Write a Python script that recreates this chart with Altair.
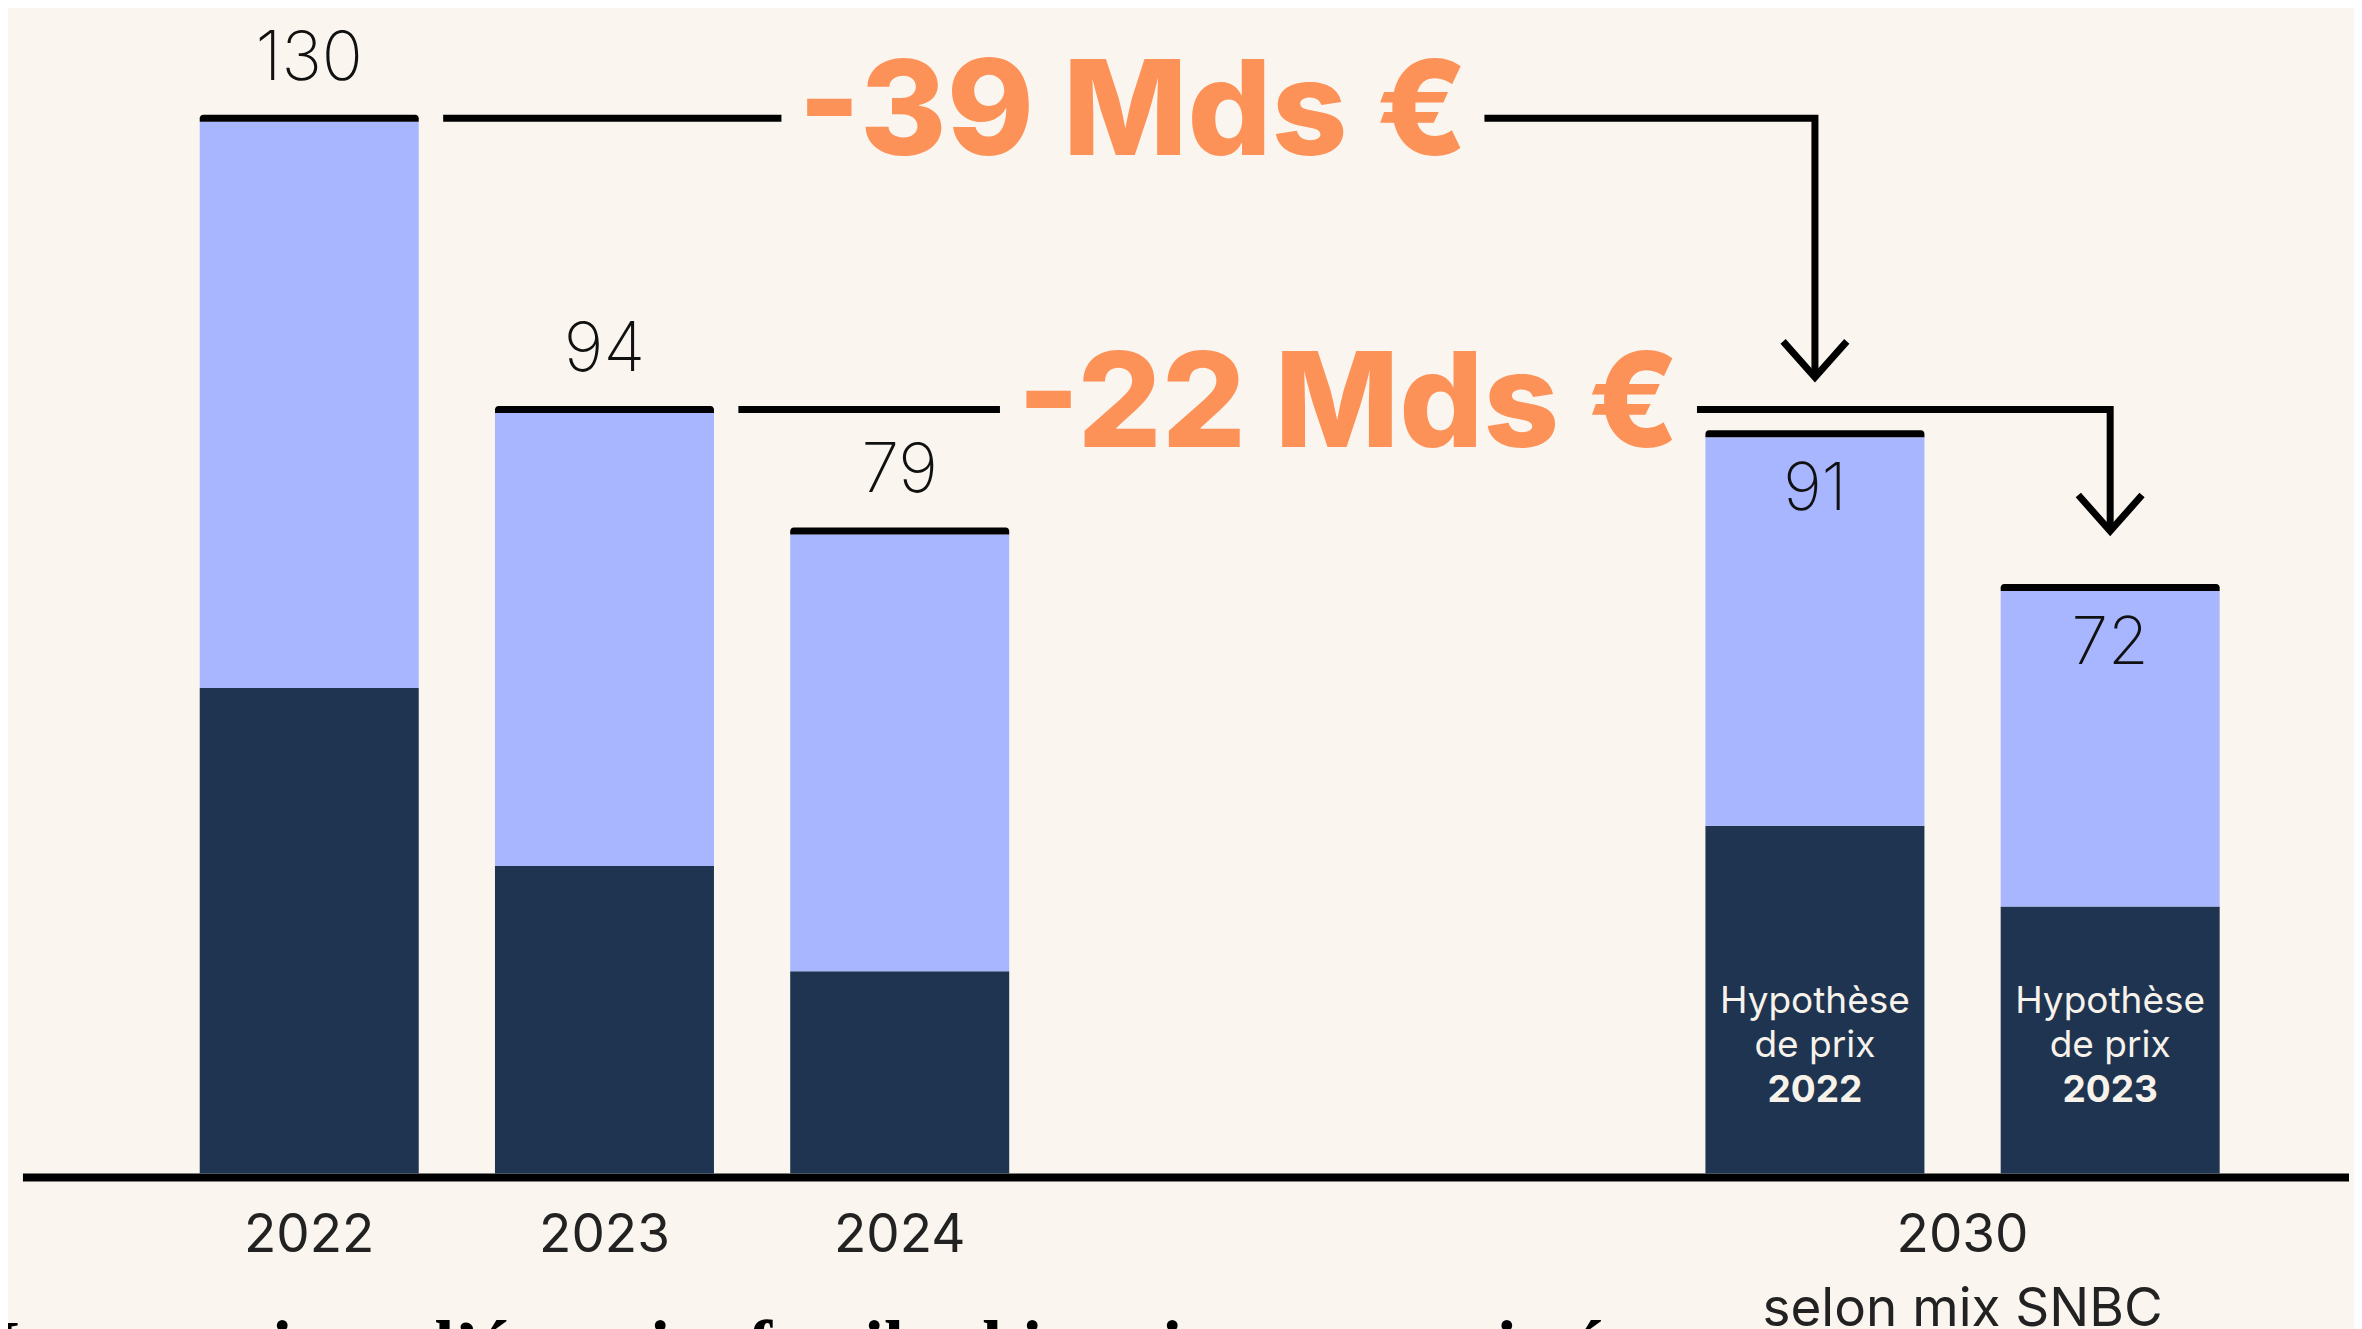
import altair as alt
import pandas as pd

# ---------------- data ----------------
bar_ids = ["2022", "2023", "2024", "2030 prix 2022", "2030 prix 2023"]
bar_years = ["2022", "2023", "2024", "2030", "2030"]
dark_vals = [60, 38, 25, 43, 33]
light_vals = [70, 56, 54, 48, 39]
total_labels = [130, 94, 79, 91, 72]
price_years = ["", "", "", "2022", "2023"]

axis_years = ["2022", "2023", "2024", "2030"]
axis_sublabels = ["", "", "", "selon mix SNBC"]

delta_labels = ["-39 Mds €", "-22 Mds €"]
delta_from = ["2022", "2023"]
delta_to = ["2030 prix 2022", "2030 prix 2023"]

hyp_line1 = "Hypothèse"
hyp_line2 = "de prix"
footer_title = "Importations d’énergies fossiles historique et projetée"

# ---------------- style / layout ----------------
BG = "#FAF6EF"
DARK = "#1F3451"
LIGHT = "#A8B6FF"
ORANGE = "#FD9259"
INK = "#111111"
LABEL_INK = "#222222"
HYP_INK = "#F7F2EA"

W, H = 2346, 1321
PX_PER_UNIT = 8.09
ZERO_PX = 1165.5
STEP_PX = 296.5
ORIGIN_PX = 297.5
GROUP_GAP = 2.1
BAR_W = 219
LINE_W = 7
CAP_PX = 7
LABEL_CX = [2.79, 3.52]
LABEL_HALF_PX = [353, 350]
START_GAP_PX = BAR_W / 2 + 25
TIP_PX = 60
ARM_DX_PX, ARM_DY_PX = 32, 36
AXIS_LEFT_PX = 10
AXIS_THICK_PX = 8
FOOTER_LEFT_PX = -21

X_DOMAIN = [-ORIGIN_PX / STEP_PX, (W - ORIGIN_PX) / STEP_PX]
Y_DOMAIN = [(ZERO_PX - H) / PX_PER_UNIT, ZERO_PX / PX_PER_UNIT]


def ux(px):
    return px / STEP_PX


def uy(px):
    return px / PX_PER_UNIT


slots = [i + (GROUP_GAP if y == "2030" else 0) for i, y in enumerate(bar_years)]
slot_of = dict(zip(bar_ids, slots))
total_of = dict(zip(bar_ids, total_labels))

xs = alt.Scale(domain=X_DOMAIN, nice=False, zero=False)
ys = alt.Scale(domain=Y_DOMAIN, nice=False, zero=False)

# ---------------- tables ----------------
seg_rows = []
for b, s, d, l in zip(bar_ids, slots, dark_vals, light_vals):
    seg_rows.append({"bar": b, "slot": s, "seg": "dark", "y0": 0, "y1": d})
    seg_rows.append({"bar": b, "slot": s, "seg": "light", "y0": d, "y1": d + l})
segs_df = pd.DataFrame(seg_rows)

tot_df = pd.DataFrame({
    "bar": bar_ids, "slot": slots, "year": bar_years,
    "total": total_labels, "label": [str(t) for t in total_labels],
    "price": price_years,
})
tot_df["cap_top"] = tot_df["total"] + uy(CAP_PX)
tot_df["hyp1"] = hyp_line1
tot_df["hyp2"] = hyp_line2
tot_df["zero"] = 0

years_df = pd.DataFrame({"year": axis_years, "sub": axis_sublabels})
years_df["slot"] = [
    sum(s for s, y in zip(slots, bar_years) if y == yr) / bar_years.count(yr)
    for yr in axis_years
]
years_df["zero"] = 0

axis_df = pd.DataFrame({"x0": [X_DOMAIN[0] + ux(AXIS_LEFT_PX)], "x1": [X_DOMAIN[1]],
                        "y0": [0], "y1": [-uy(AXIS_THICK_PX)]})

path_rows = []
delta_rows = []
for k, (lab, f, t) in enumerate(zip(delta_labels, delta_from, delta_to)):
    s, d = slot_of[f], slot_of[t]
    level = total_of[f] + uy(CAP_PX) / 2
    tip = total_of[t] + uy(TIP_PX)
    half = ux(LABEL_HALF_PX[k])
    cx = LABEL_CX[k]
    paths = {
        f"a{k}": [(s + ux(START_GAP_PX), level), (cx - half, level)],
        f"b{k}": [(cx + half, level), (d, level), (d, tip)],
        f"h{k}": [(d - ux(ARM_DX_PX), tip + uy(ARM_DY_PX)), (d, tip),
                  (d + ux(ARM_DX_PX), tip + uy(ARM_DY_PX))],
    }
    for pid, pts in paths.items():
        for o, (px_, py_) in enumerate(pts):
            path_rows.append({"path": pid, "ord": o, "slot": px_, "val": py_})
    delta_rows.append({"label": lab, "slot": cx, "val": level})
paths_df = pd.DataFrame(path_rows)
delta_df = pd.DataFrame(delta_rows)

footer_df = pd.DataFrame({"text": [footer_title],
                          "slot": [X_DOMAIN[0] + ux(FOOTER_LEFT_PX)], "zero": [0]})


def X(field="slot"):
    return alt.X(f"{field}:Q", scale=xs, axis=None)


def Y(field):
    return alt.Y(f"{field}:Q", scale=ys, axis=None)


# ---------------- layers ----------------
axis_line = alt.Chart(axis_df).mark_rect(color="#000000").encode(
    x=X("x0"), x2="x1:Q", y=Y("y0"), y2="y1:Q")

bars = alt.Chart(segs_df).mark_bar(size=BAR_W).encode(
    x=X(), y=Y("y0"), y2="y1:Q",
    color=alt.Color("seg:N", scale=alt.Scale(domain=["dark", "light"], range=[DARK, LIGHT]),
                    legend=None))

caps = alt.Chart(tot_df).mark_bar(size=BAR_W, color="#000000",
                                  cornerRadiusTopLeft=6, cornerRadiusTopRight=6).encode(
    x=X(), y=Y("total"), y2="cap_top:Q")

val_above = alt.Chart(tot_df).transform_filter("datum.year != '2030'").mark_text(
    font="Inter", fontSize=68, fontWeight=200, color=INK, align="center",
    baseline="alphabetic", dy=-42).encode(x=X(), y=Y("total"), text="label:N")

val_inside = alt.Chart(tot_df).transform_filter("datum.year == '2030'").mark_text(
    font="Inter", fontSize=66, fontWeight=200, color=INK, align="center",
    baseline="alphabetic", dy=73).encode(x=X(), y=Y("total"), text="label:N")

hyp_a = alt.Chart(tot_df).transform_filter("datum.price != ''").mark_text(
    font="Inter", fontSize=37, color=HYP_INK, align="center", baseline="alphabetic",
    dy=-161).encode(x=X(), y=Y("zero"), text="hyp1:N")
hyp_b = alt.Chart(tot_df).transform_filter("datum.price != ''").mark_text(
    font="Inter", fontSize=37, color=HYP_INK, align="center", baseline="alphabetic",
    dy=-116.5).encode(x=X(), y=Y("zero"), text="hyp2:N")
hyp_c = alt.Chart(tot_df).transform_filter("datum.price != ''").mark_text(
    font="Inter", fontSize=37, fontWeight=700, color=HYP_INK, align="center",
    baseline="alphabetic", dy=-72).encode(x=X(), y=Y("zero"), text="price:N")

year_lab = alt.Chart(years_df).mark_text(
    font="Inter", fontSize=53, color=LABEL_INK, align="center", baseline="alphabetic",
    dy=78).encode(x=X(), y=Y("zero"), text="year:N")
year_sub = alt.Chart(years_df).transform_filter("datum.sub != ''").mark_text(
    font="Inter", fontSize=53, color=LABEL_INK, align="center", baseline="alphabetic",
    dy=152).encode(x=X(), y=Y("zero"), text="sub:N")

connectors = alt.Chart(paths_df).mark_line(
    color="#000000", strokeWidth=LINE_W, strokeJoin="miter", strokeCap="butt").encode(
    x=X(), y=Y("val"), detail="path:N", order="ord:Q")

delta_text = alt.Chart(delta_df).mark_text(
    font="Inter", fontSize=132, fontWeight=800, color=ORANGE, align="center",
    baseline="alphabetic", dy=37).encode(x=X(), y=Y("val"), text="label:N")

footer = alt.Chart(footer_df).mark_text(
    font="Liberation Serif", fontSize=72, fontWeight="bold", color="#000000",
    align="left", baseline="alphabetic", dy=196).encode(x=X(), y=Y("zero"), text="text:N")

chart = alt.layer(
    axis_line, bars, caps, val_above, val_inside, hyp_a, hyp_b, hyp_c,
    year_lab, year_sub, connectors, delta_text, footer
).properties(
    width=W, height=H, background=BG, padding=0,
    autosize=alt.AutoSizeParams(type="none"),
).configure_view(stroke=None)

chart.save("out.html", embed_options={"renderer": "svg", "actions": False})
